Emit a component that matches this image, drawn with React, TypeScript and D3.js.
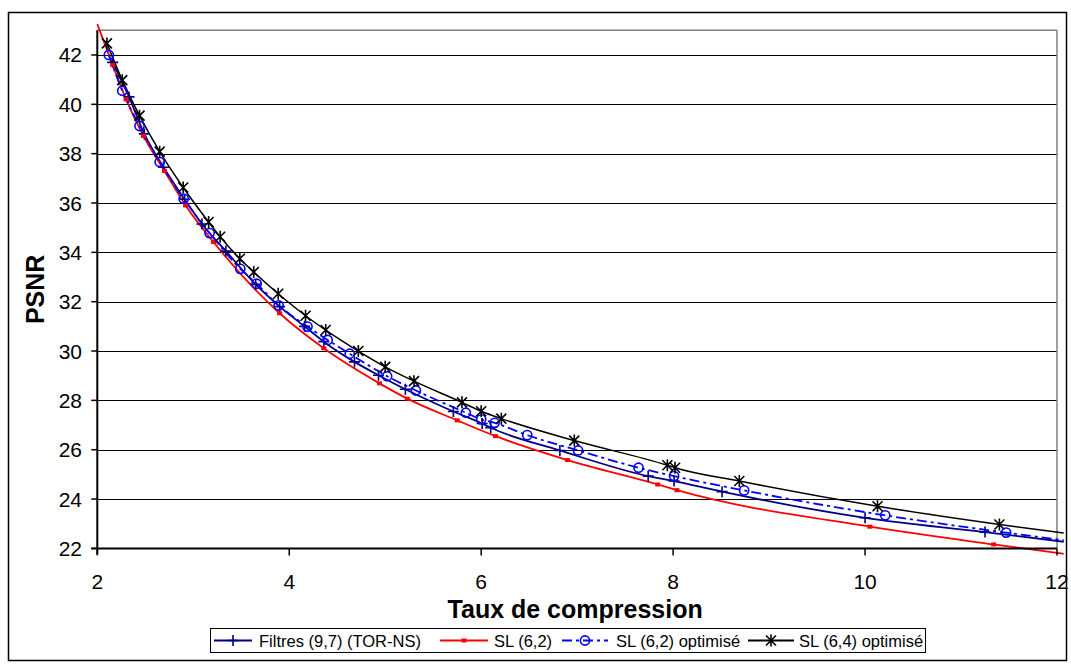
import React from "react";
import * as d3 from "d3";

// ---- data ----
const filtresX = [2.16, 2.33, 2.49, 2.69, 2.91, 3.09, 3.34, 3.65, 3.9, 4.16, 4.36, 4.68, 4.93, 5.21, 5.71, 6.01, 6.1, 6.82, 7.74, 8.01, 8.51, 10.0, 11.25, 12.07];
const filtresY = [41.7, 40.3, 38.8, 37.45, 36.15, 35.15, 34.05, 32.7, 31.8, 31.0, 30.38, 29.56, 29.02, 28.45, 27.55, 27.06, 26.89, 25.97, 24.93, 24.73, 24.3, 23.24, 22.66, 22.27];

const sl62X = [2.0, 2.16, 2.3, 2.48, 2.7, 2.92, 3.21, 3.9, 4.36, 4.94, 5.23, 5.75, 6.15, 6.9, 7.84, 8.04, 10.05, 11.34, 12.07];
const sl62Y = [43.25, 41.6, 40.2, 38.72, 37.3, 35.9, 34.42, 31.53, 30.11, 28.69, 28.07, 27.19, 26.55, 25.58, 24.59, 24.36, 22.88, 22.16, 21.78];

const sl62optX = [2.12, 2.26, 2.44, 2.65, 2.9, 3.17, 3.49, 3.66, 3.89, 4.19, 4.4, 4.63, 5.02, 5.32, 5.84, 6.0, 6.14, 6.48, 7.01, 7.64, 8.01, 8.74, 10.21, 11.47, 12.07];
const sl62optY = [42.0, 40.55, 39.12, 37.66, 36.17, 34.78, 33.33, 32.73, 31.85, 30.99, 30.45, 29.89, 28.98, 28.4, 27.5, 27.23, 27.09, 26.59, 25.97, 25.27, 24.93, 24.35, 23.34, 22.64, 22.33];

const sl64optX = [2.1, 2.26, 2.44, 2.65, 2.895, 3.16, 3.28, 3.485, 3.63, 3.885, 4.17, 4.38, 4.72, 5.0, 5.3, 5.8, 6.0, 6.21, 6.97, 7.94, 8.02, 8.69, 10.13, 11.4, 12.07];
const sl64optY = [42.47, 40.98, 39.54, 38.08, 36.63, 35.23, 34.63, 33.74, 33.2, 32.32, 31.43, 30.85, 30.0, 29.36, 28.78, 27.92, 27.56, 27.26, 26.37, 25.37, 25.27, 24.73, 23.71, 22.97, 22.62];

const seriesNames = ["Filtres (9,7) (TOR-NS)", "SL (6,2)", "SL (6,2) optimisé", "SL (6,4) optimisé"];
const xTicks = [2, 4, 6, 8, 10, 12];
const yTicks = [22, 24, 26, 28, 30, 32, 34, 36, 38, 40, 42];
const xDomain = [2, 12];
const yDomain = [22, 43];
const xTitle = "Taux de compression";
const yTitle = "PSNR";

type Pt = { x: number; y: number };
const zip = (xs: number[], ys: number[]): Pt[] => xs.map((x, i) => ({ x, y: ys[i] }));

const FONT = "'Liberation Sans', Arial, Helvetica, sans-serif";

const series = [
  { name: seriesNames[0], pts: zip(filtresX, filtresY), color: "#000080", dash: "", marker: "plus" },
  { name: seriesNames[1], pts: zip(sl62X, sl62Y), color: "#FF0000", dash: "", marker: "square" },
  { name: seriesNames[2], pts: zip(sl62optX, sl62optY), color: "#0000FF", dash: "10,4,3,4", marker: "circle" },
  { name: seriesNames[3], pts: zip(sl64optX, sl64optY), color: "#000000", dash: "", marker: "star" },
];

function Marker({ kind, cx, cy, color }: { kind: string; cx: number; cy: number; color: string }) {
  if (kind === "plus") {
    const s = 5.5;
    return (
      <path d={`M${cx - s},${cy}H${cx + s}M${cx},${cy - s}V${cy + s}`} stroke={color} strokeWidth={1.6} fill="none" />
    );
  }
  if (kind === "square") {
    return <rect x={cx - 2.5} y={cy - 2} width={5} height={4} fill={color} />;
  }
  if (kind === "circle") {
    return <circle cx={cx} cy={cy} r={4.6} stroke={color} strokeWidth={1.6} fill="none" />;
  }
  const s = 5;
  return (
    <path
      d={`M${cx - s},${cy - s}L${cx + s},${cy + s}M${cx - s},${cy + s}L${cx + s},${cy - s}M${cx},${cy - s - 1}V${cy + s + 1}`}
      stroke={color}
      strokeWidth={1.6}
      fill="none"
    />
  );
}

export default function App() {
  const W = 1071;
  const H = 664;
  const left = 97.3;
  const right = 1057;
  const top = 30.3;
  const bottom = 548.4;

  const x = d3.scaleLinear().domain(xDomain).range([left, right]);
  const y = d3.scaleLinear().domain(yDomain).range([bottom, top]);

  const line = d3
    .line<Pt>()
    .x((d) => x(d.x))
    .y((d) => y(d.y))
    .curve(d3.curveMonotoneX);

  const legendItems = [
    { lx0: 214, lx1: 252, tx: 259 },
    { lx0: 440, lx1: 488, tx: 494 },
    { lx0: 562, lx1: 608, tx: 616 },
    { lx0: 748, lx1: 794, tx: 799 },
  ];

  return (
    <svg
      width={W}
      height={H}
      style={{ position: "absolute", left: 0, top: 0, background: "#fff" }}
      fontFamily={FONT}
    >
      <rect x={0} y={0} width={W} height={H} fill="#fff" />
      <rect x={8.5} y={12.5} width={1058} height={648} fill="none" stroke="#000" strokeWidth={1.5} />

      {/* gridlines */}
      {yTicks.map((t) => (
        <line key={"g" + t} x1={left} x2={right} y1={Math.round(y(t)) + 0.5} y2={Math.round(y(t)) + 0.5} stroke="#000" strokeWidth={1} />
      ))}
      {/* plot frame top/right */}
      <line x1={left} x2={right} y1={top} y2={top} stroke="#808080" strokeWidth={1.5} />
      <line x1={right} x2={right} y1={top} y2={bottom} stroke="#808080" strokeWidth={1.5} />

      {/* series lines */}
      {series.map((s) => (
        <path key={s.name} d={line(s.pts) || ""} fill="none" stroke={s.color} strokeWidth={s.color === "#000000" ? 1.5 : 1.8} strokeDasharray={s.dash || undefined} />
      ))}
      {/* markers */}
      {series.map((s) =>
        s.pts
          .filter((p) => p.x <= xDomain[1] && p.y <= yDomain[1])
          .map((p, i) => <Marker key={s.name + i} kind={s.marker} cx={x(p.x)} cy={y(p.y)} color={s.color} />)
      )}

      {/* axes */}
      <line x1={left} x2={left} y1={top} y2={bottom + 6} stroke="#000" strokeWidth={2} />
      <line x1={left - 6} x2={right} y1={bottom} y2={bottom} stroke="#000" strokeWidth={2} />
      {yTicks.map((t) => (
        <g key={"yt" + t}>
          <line x1={left - 6} x2={left} y1={y(t)} y2={y(t)} stroke="#000" strokeWidth={1.5} />
          <text x={82} y={y(t) + 7.5} textAnchor="end" fontSize={21}>
            {t}
          </text>
        </g>
      ))}
      {xTicks.map((t) => (
        <g key={"xt" + t}>
          <line x1={x(t)} x2={x(t)} y1={bottom} y2={bottom + 7} stroke="#000" strokeWidth={1.5} />
          <text x={x(t)} y={589} textAnchor="middle" fontSize={21}>
            {t}
          </text>
        </g>
      ))}

      <text x={(left + right) / 2 - 2} y={618} textAnchor="middle" fontSize={25} fontWeight="bold">
        {xTitle}
      </text>
      <text transform={`translate(44,${(top + bottom) / 2}) rotate(-90)`} textAnchor="middle" fontSize={25} fontWeight="bold">
        {yTitle}
      </text>

      {/* legend */}
      <rect x={210.5} y={628.5} width={715} height={24} fill="#fff" stroke="#000" strokeWidth={1} />
      {series.map((s, i) => {
        const it = legendItems[i];
        return (
          <g key={"lg" + i}>
            <line x1={it.lx0} x2={it.lx1} y1={640.5} y2={640.5} stroke={s.color} strokeWidth={1.8} strokeDasharray={s.dash || undefined} />
            <Marker kind={s.marker} cx={(it.lx0 + it.lx1) / 2} cy={640.5} color={s.color} />
            <text x={it.tx} y={646.5} fontSize={16.5}>
              {s.name}
            </text>
          </g>
        );
      })}
    </svg>
  );
}
